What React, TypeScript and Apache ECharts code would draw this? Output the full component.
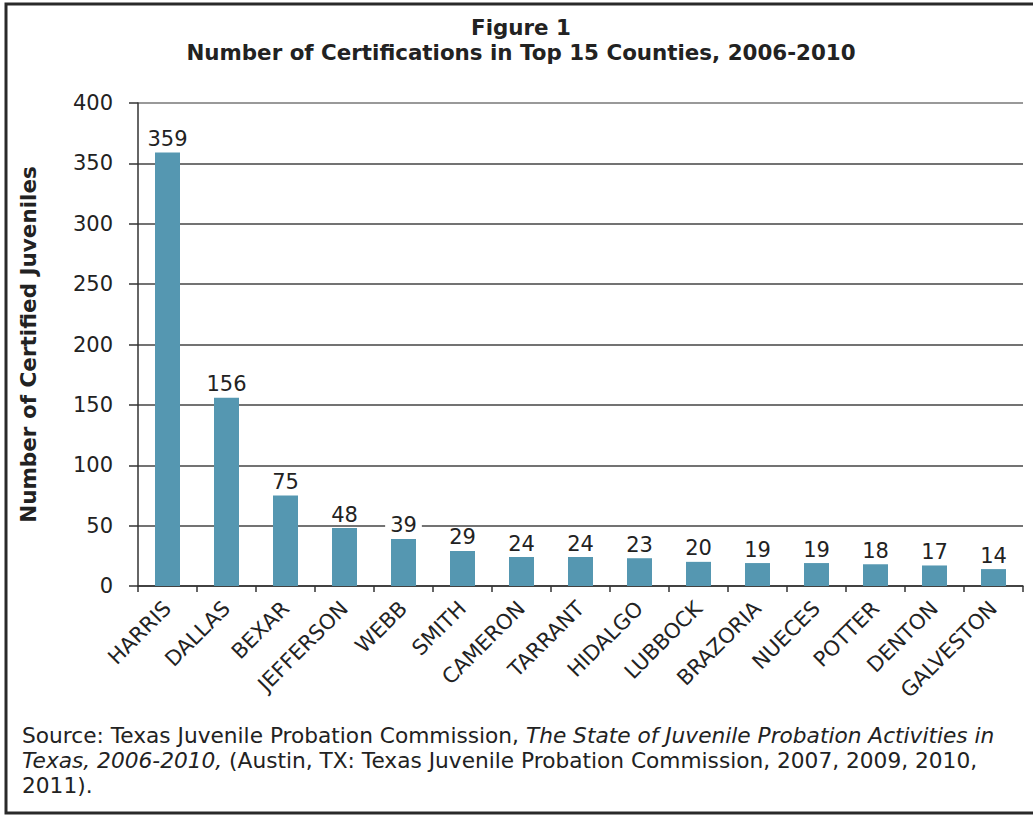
import React, { useEffect, useRef } from "react";
import * as echarts from "echarts";

const categories = [
  "HARRIS", "DALLAS", "BEXAR", "JEFFERSON", "WEBB", "SMITH", "CAMERON", "TARRANT",
  "HIDALGO", "LUBBOCK", "BRAZORIA", "NUECES", "POTTER", "DENTON", "GALVESTON",
];
const certifications = [359, 156, 75, 48, 39, 29, 24, 24, 23, 20, 19, 19, 18, 17, 14];
const titleLines = ["Figure 1", "Number of Certifications in Top 15 Counties, 2006-2010"];
const yAxisTitle = "Number of Certified Juveniles";

const FONT = "DejaVu Sans, Verdana, sans-serif";
const gridColors = ["#444", "#444", "#444", "#444", "#444", "#444", "#444", "#444", "#777"];

export default function App() {
  const ref = useRef<HTMLDivElement>(null);
  useEffect(() => {
    if (!ref.current) return;
    const chart = echarts.init(ref.current, null, { renderer: "svg" });
    chart.setOption({
      animation: false,
      backgroundColor: "#ffffff",
      textStyle: { fontFamily: FONT },
      grid: { left: 138, right: 10, top: 103, bottom: 229, containLabel: false },
      xAxis: {
        type: "category",
        data: categories,
        axisLine: { show: true, lineStyle: { color: "#333", width: 1.5 } },
        axisTick: { show: true, length: 6, lineStyle: { color: "#333", width: 1.5 } },
        axisLabel: {
          rotate: 45,
          margin: 19,
          fontFamily: FONT,
          fontSize: 21,
          color: "#222",
          interval: 0,
        },
      },
      yAxis: {
        type: "value",
        min: 0,
        max: 400,
        interval: 50,
        name: yAxisTitle,
        nameLocation: "middle",
        nameGap: 99,
        nameRotate: 90,
        nameTextStyle: { fontFamily: FONT, fontSize: 21.5, fontWeight: "bold", color: "#222" },
        axisLine: { show: true, lineStyle: { color: "#333", width: 1.5 } },
        axisTick: { show: true, length: 9, lineStyle: { color: "#333", width: 1.5 } },
        axisLabel: { fontFamily: FONT, fontSize: 21, color: "#222", margin: 25 },
        splitLine: { show: true, lineStyle: { color: gridColors, width: 1.5 } },
      },
      series: [
        {
          type: "bar",
          data: certifications,
          barWidth: 25,
          itemStyle: { color: "#5597b1" },
          label: {
            show: true,
            position: "top",
            distance: 3,
            fontFamily: FONT,
            fontSize: 21,
            color: "#222",
            backgroundColor: "#ffffff",
            padding: [0, 5],
          },
        },
      ],
      graphic: [
        {
          type: "rect",
          shape: { x: 6, y: 4, width: 1060, height: 809 },
          style: { fill: "none", stroke: "#2a2a2a", lineWidth: 3 },
          silent: true,
        },
        {
          type: "text",
          x: 521,
          y: 27,
          style: {
            text: titleLines[0],
            fontFamily: FONT,
            fontSize: 21.4,
            fontWeight: "bold",
            fill: "#222",
            align: "center",
            verticalAlign: "middle",
          },
        },
        {
          type: "text",
          x: 521,
          y: 52,
          style: {
            text: titleLines[1],
            fontFamily: FONT,
            fontSize: 21.4,
            fontWeight: "bold",
            fill: "#222",
            align: "center",
            verticalAlign: "middle",
          },
        },
        {
          type: "text",
          left: 22,
          top: 724,
          style: {
            text:
              "{n|Source: Texas Juvenile Probation Commission, }{i|The State of Juvenile Probation Activities in}\n" +
              "{i|Texas, 2006-2010,}{n| (Austin, TX: Texas Juvenile Probation Commission, 2007, 2009, 2010,}\n" +
              "{n|2011).}",
            fontFamily: FONT,
            fontSize: 21.7,
            fill: "#222",
            rich: {
              n: { fontFamily: FONT, fontSize: 21.7, color: "#222", lineHeight: 25 },
              i: { fontFamily: FONT, fontSize: 21.7, fontStyle: "italic", color: "#222", lineHeight: 25 },
            },
          },
        },
      ],
    });
    return () => chart.dispose();
  }, []);
  return (
    <div
      ref={ref}
      style={{ position: "fixed", left: 0, top: 0, width: 1033, height: 815 }}
    />
  );
}
